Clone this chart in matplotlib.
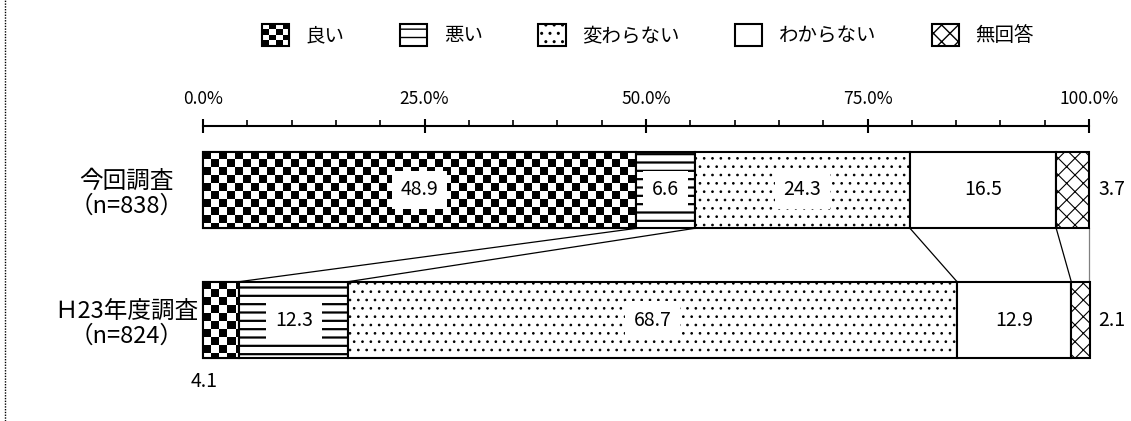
import numpy as np
import matplotlib
matplotlib.use("Agg")
import matplotlib.pyplot as plt
from matplotlib.patches import Patch, Rectangle
from matplotlib.legend_handler import HandlerBase

plt.rcParams['font.family'] = ['Noto Sans CJK JP', 'DejaVu Sans']
plt.rcParams['hatch.color'] = 'black'
plt.rcParams['hatch.linewidth'] = 1.0

# データ
categories = ["良い", "悪い", "変わらない", "わからない", "無回答"]
surveys = ["今回調査\n（n=838）", "Ｈ23年度調査\n（n=824）"]
current = [48.9, 6.6, 24.3, 16.5, 3.7]
previous = [4.1, 12.3, 68.7, 12.9, 2.1]
x_ticks = [0, 25, 50, 75, 100]
x_tick_labels = ["0.0%", "25.0%", "50.0%", "75.0%", "100.0%"]

hatches = ["checker", "--", "..", "", "xx"]
hatch_lw = [1.0, 1.6, 0.7, 1.0, 0.8]

W, H = 1131, 421
fig = plt.figure(figsize=(W / 100, H / 100), dpi=100)
ax = fig.add_axes([203 / W, 1 - 410 / H, 886 / W, (410 - 126) / H])
ax.set_xlim(0, 100)
ax.set_ylim(1.692, -0.492)

bar_h = 0.59
px_x = 886 / 100      # pixels per %
px_y = 130            # pixels per y unit


def checker_fill(bar, cell=8):
    # 市松模様を画像で描いてバーでクリップ
    x0, y0 = bar.get_x(), bar.get_y()
    w, h = bar.get_width(), bar.get_height()
    cw, ch = cell / px_x, cell / px_y
    nx, ny = int(np.ceil(w / cw)), int(np.ceil(h / ch))
    grid = (np.add.outer(np.arange(ny), np.arange(nx)) % 2).astype(float)
    im = ax.imshow(grid, cmap="gray", vmin=0, vmax=1, interpolation="nearest",
                   extent=(x0, x0 + nx * cw, y0 + ny * ch, y0), aspect="auto", zorder=1)
    im.set_clip_path(bar)


def make_patch_kw(ci):
    hatch = hatches[ci]
    return dict(hatch=None if hatch in ("checker", "") else hatch)


rows = [current, previous]
edges = []
for yi, vals in enumerate(rows):
    left = 0
    lefts = []
    for ci, v in enumerate(vals):
        hatch = hatches[ci]
        with plt.rc_context({"hatch.linewidth": hatch_lw[ci]}):
            bar = ax.barh(yi, v, left=left, height=bar_h, color="white", edgecolor="black",
                          linewidth=1.5, zorder=2 if hatch != "checker" else 0.5,
                          clip_on=False, **make_patch_kw(ci))[0]
        if hasattr(bar, "set_hatch_linewidth"):
            bar.set_hatch_linewidth(hatch_lw[ci])
        if hatch == "checker":
            checker_fill(bar)
            ax.barh(yi, v, left=left, height=bar_h, color="none", edgecolor="black",
                    linewidth=1.5, zorder=2, clip_on=False)
        lefts.append(left)
        left += v
    lefts.append(min(left, 100))
    edges.append(lefts)

    # 数値ラベル
    for ci, v in enumerate(vals):
        cx = lefts[ci] + v / 2
        if v >= 5:
            ax.text(cx, yi, f"{v:.1f}", ha="center", va="center", fontsize=14, zorder=5,
                    bbox=dict(boxstyle="square,pad=0.45", facecolor="white", edgecolor="none"))
        elif ci == len(vals) - 1:
            ax.text(102.6, yi, f"{v:.1f}", ha="center", va="center", fontsize=14)
        else:
            ax.text(0.1, yi + 0.47, f"{v:.1f}", ha="center", va="center", fontsize=14)

# 区切り線
for i in range(1, len(categories) + 1):
    color = "gray" if i == len(categories) else "black"
    ax.plot([edges[0][i], edges[1][i]], [bar_h / 2, 1 - bar_h / 2], color=color,
            linewidth=0.9, zorder=1, clip_on=False)

# 軸
for s in ["left", "right", "bottom"]:
    ax.spines[s].set_visible(False)
ax.spines["top"].set_linewidth(1.5)
ax.xaxis.tick_top()
ax.set_xticks(x_ticks)
ax.set_xticklabels(x_tick_labels, fontsize=12.5)
ax.set_xticks(np.arange(0, 101, 5), minor=True)
ax.tick_params(axis="x", which="major", direction="inout", length=10, width=1.5, pad=8)
ax.tick_params(axis="x", which="minor", direction="out", length=4.5, width=1.2)
ax.set_yticks([0, 1])
ax.set_yticklabels(surveys, fontsize=17, ha="center", multialignment="center",
                   linespacing=1.15)
ax.tick_params(axis="y", length=0, pad=55)


# 凡例
class CheckerHandler(HandlerBase):
    def create_artists(self, legend, orig_handle, xdescent, ydescent, width, height,
                       fontsize, trans):
        arts = []
        n = 4
        cw, ch = width / n, height / n
        for i in range(n):
            for j in range(n):
                if (i + j) % 2 == 0:
                    arts.append(Rectangle((-xdescent + i * cw, -ydescent + j * ch), cw, ch,
                                          facecolor="black", edgecolor="none", transform=trans))
        arts.append(Rectangle((-xdescent, -ydescent), width, height, facecolor="none",
                              edgecolor="black", linewidth=1.5, transform=trans))
        return arts


handles = []
for ci, name in enumerate(categories):
    with plt.rc_context({"hatch.linewidth": hatch_lw[ci]}):
        p = Patch(facecolor="white", edgecolor="black", linewidth=1.5,
                  label=name, **make_patch_kw(ci))
    if hasattr(p, "set_hatch_linewidth"):
        p.set_hatch_linewidth(hatch_lw[ci])
    handles.append(p)
fig.legend(handles=handles, loc="center", bbox_to_anchor=(0.573, 1 - 35 / H), ncol=5,
           frameon=False, fontsize=14, handlelength=1.4, handleheight=1.4,
           handletextpad=0.85, columnspacing=2.85,
           handler_map={handles[0]: CheckerHandler()})

# 左端の点線
fig.add_artist(plt.Line2D([5 / W, 5 / W], [0, 1], transform=fig.transFigure,
                          color="black", linestyle=(0, (1, 1)), linewidth=1.0))

fig.savefig("out.png", dpi=100)
